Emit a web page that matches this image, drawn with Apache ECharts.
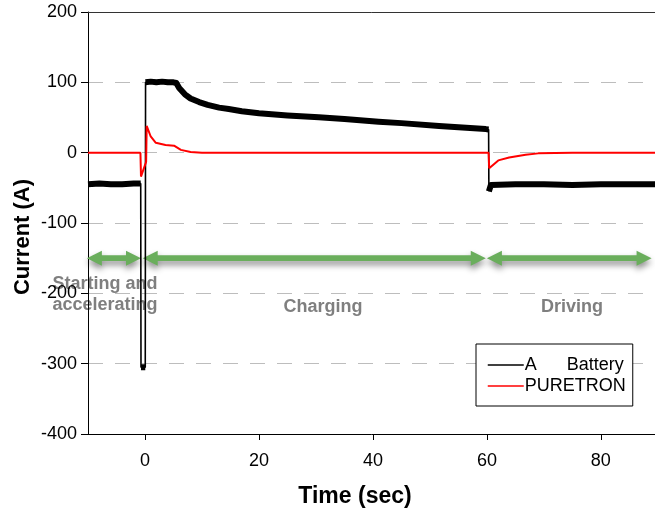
<!DOCTYPE html>
<html>
<head>
<meta charset="utf-8">
<script src="https://cdn.jsdelivr.net/npm/echarts@6/dist/echarts.min.js"></script>
<style>
html,body{margin:0;padding:0;background:#fff;}
#chart{width:655px;height:511px;}
</style>
</head>
<body>
<div id="chart"></div>
<script>
// ---- data ----
const battTime = [-10, -8, -6, -4, -2, -0.75, -0.7, 0.05, 0.1, 1, 2, 3, 4, 5, 5.5, 6, 7, 8, 9.5, 11, 13, 14.7, 17, 20, 25, 30.5, 35, 41, 45, 51.6, 55, 59.8, 60.3, 60.35, 60.7, 65, 70, 75, 80, 85, 90];
const battCurrent = [-45, -44, -45, -45, -44, -44, -305, -305, 100, 101, 100, 101, 100, 100, 99, 92, 83, 77, 72, 68, 64, 62, 59, 56, 53, 50.5, 48, 44, 42, 38, 36, 33.5, 33, -55, -46, -45, -45, -46, -45, -45, -45];

const pureTime = [-10, -0.8, -0.7, 0.2, 0.3, 1, 1.9, 3.6, 5.1, 6.3, 8, 10, 30, 60.3, 60.4, 62, 63.9, 66.8, 69, 75, 90];
const pureCurrent = [0, 0, -34, -13, 38, 23, 14, 11, 10, 4, 1, 0, 0, 0, -22, -11, -7, -3, -1, 0, 0];

const seriesNames = ['A      Battery', 'PURETRON'];
const xTicks = [0, 20, 40, 60, 80];
const yTicks = [-400, -300, -200, -100, 0, 100, 200];

// phase arrows: [start time, end time, level]
const arrowStart = [-10.2, -0.4, 60];
const arrowEnd = [-0.7, 59.8, 88.9];
const arrowLevel = -150;
const phaseLabels = ['Starting and\naccelerating', 'Charging', 'Driving'];

// ---- build series data ----
const battData = battTime.map((t, i) => [t, battCurrent[i]]);
const bandData = [];
for (let i = 0; i < battTime.length; i++) {
  if (i > 0 && Math.abs(battCurrent[i] - battCurrent[i - 1]) > 60) bandData.push('-');
  bandData.push([battTime[i], battCurrent[i]]);
}
const pureData = pureTime.map((t, i) => [t, pureCurrent[i]]);
const arrowData = arrowStart.map((s, i) => [s, arrowEnd[i], arrowLevel]);

const FONT = '"Liberation Sans", Arial, sans-serif';
const chart = echarts.init(document.getElementById('chart'), null, {renderer: 'canvas'});

const option = {
  animation: false,
  backgroundColor: '#fff',
  grid: {left: 88, top: 12, right: 0, bottom: 77, containLabel: false},
  xAxis: [{
    type: 'value', min: -10, max: 89.5,
    axisLine: {show: true, onZero: false, lineStyle: {color: '#000', width: 1}},
    axisTick: {show: true, inside: false, length: 6, customValues: xTicks, lineStyle: {color: '#000'}},
    axisLabel: {show: true, customValues: xTicks, margin: 18, color: '#000', fontSize: 18, fontFamily: FONT},
    splitLine: {show: false}
  }, {
    type: 'value', min: -10, max: 89.5, position: 'top',
    axisLine: {show: true, onZero: false, lineStyle: {color: '#333', width: 1}},
    axisTick: {show: false}, axisLabel: {show: false}, splitLine: {show: false}
  }],
  yAxis: {
    type: 'value', min: yTicks[0], max: yTicks[yTicks.length - 1], interval: 100,
    axisLine: {show: true, onZero: false, lineStyle: {color: '#000', width: 1}},
    axisTick: {show: true, inside: false, length: 7, lineStyle: {color: '#000'}},
    axisLabel: {margin: 11, color: '#000', fontSize: 18, fontFamily: FONT},
    splitLine: {show: true, lineStyle: {color: '#bdbdbd', width: 1, type: [15, 12]}}
  },
  legend: {
    data: seriesNames,
    orient: 'vertical',
    left: 476, top: 344,
    padding: [12, 7, 11, 11],
    itemGap: 3,
    itemWidth: 36, itemHeight: 18,
    itemStyle: {opacity: 0},
    lineStyle: {width: 1.5},
    borderColor: '#000', borderWidth: 1, borderRadius: 0,
    backgroundColor: '#fff',
    textStyle: {fontSize: 18, color: '#000', fontFamily: FONT, padding: [0, 0, 0, -4]}
  },
  graphic: [
    {type: 'text', x: 105, y: 295, z: 0, style: {text: phaseLabels[0], fill: '#7f7f7f', font: 'bold 18px ' + FONT, align: 'center', verticalAlign: 'middle', lineHeight: 21}},
    {type: 'text', x: 323, y: 307, z: 0, style: {text: phaseLabels[1], fill: '#7f7f7f', font: 'bold 18px ' + FONT, align: 'center', verticalAlign: 'middle'}},
    {type: 'text', x: 572, y: 307, z: 0, style: {text: phaseLabels[2], fill: '#7f7f7f', font: 'bold 18px ' + FONT, align: 'center', verticalAlign: 'middle'}},
    {type: 'text', x: 23, y: 237, rotation: Math.PI / 2, style: {text: 'Current (A)', fill: '#000', font: 'bold 22px ' + FONT, align: 'center', verticalAlign: 'middle'}},
    {type: 'text', x: 355, y: 497, style: {text: 'Time (sec)', fill: '#000', font: 'bold 23px ' + FONT, align: 'center', verticalAlign: 'middle'}}
  ],
  series: [
    {
      name: 'arrows', type: 'custom', data: arrowData, z: 3,
      encode: {x: [0, 1], y: 2},
      renderItem: function (params, api) {
        const a = api.coord([api.value(0), api.value(2)]);
        const b = api.coord([api.value(1), api.value(2)]);
        const y = a[1], L = a[0], R = b[0];
        const hl = 15, hw = 7.5, sw = 2.8;
        return {
          type: 'polygon',
          shape: {points: [
            [L, y], [L + hl, y - hw], [L + hl, y - sw], [R - hl, y - sw], [R - hl, y - hw],
            [R, y], [R - hl, y + hw], [R - hl, y + sw], [L + hl, y + sw], [L + hl, y + hw]
          ]},
          style: {fill: '#6aae5c', shadowBlur: 6, shadowColor: 'rgba(0,0,0,0.45)', shadowOffsetY: 4}
        };
      }
    },
    {
      name: 'band', type: 'line', data: bandData, symbol: 'none', z: 4,
      lineStyle: {color: '#000', width: 6, join: 'round'}, connectNulls: false, silent: true
    },
    {
      name: seriesNames[0], type: 'line', data: battData, symbol: 'none', z: 5,
      color: '#000', itemStyle: {color: '#000'}, lineStyle: {color: '#000', width: 1.6}
    },
    {
      name: seriesNames[1], type: 'line', data: pureData, symbol: 'none', z: 6,
      color: '#ff0000', itemStyle: {color: '#ff0000'}, lineStyle: {color: '#ff0000', width: 2}
    }
  ]
};
chart.setOption(option);
</script>
</body>
</html>
